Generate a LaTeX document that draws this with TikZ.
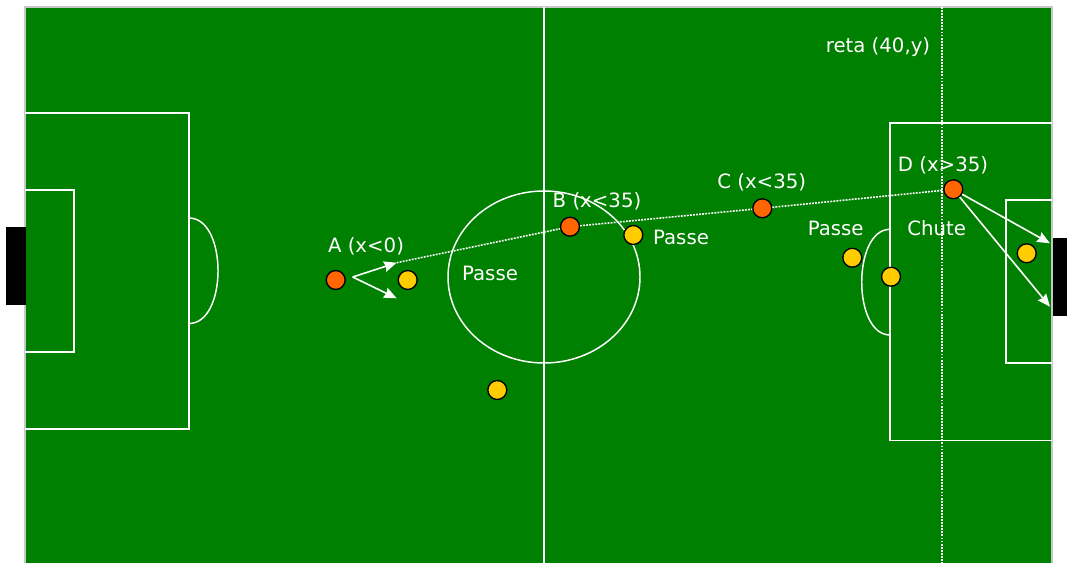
\documentclass[tikz,border=0pt]{standalone}
\usepackage{fontspec}
\setmainfont{DejaVu Sans}
\usetikzlibrary{arrows.meta}
\definecolor{pitch}{RGB}{0,128,0}
\definecolor{attackcol}{RGB}{255,102,0}
\definecolor{defendcol}{RGB}{255,204,0}
\definecolor{edgecol}{RGB}{200,200,200}
\begin{document}
\begin{tikzpicture}[x=0.75pt,y=-0.75pt,
  pline/.style={draw=white,line width=1.1pt},
  attacker/.style={circle,draw=black,line width=1pt,fill=attackcol,minimum size=14.2pt,inner sep=0pt},
  defender/.style={circle,draw=black,line width=1pt,fill=defendcol,minimum size=14.2pt,inner sep=0pt},
  lbl/.style={text=white,font=\fontsize{14.8}{17}\selectfont,inner sep=0pt},
  move/.style={draw=white,line width=1.2pt,-{Stealth[length=9.5pt,width=8pt,inset=1pt]}},
  traj/.style={draw=white,line width=1.2pt,dash pattern=on 1.4pt off 0.9pt}]
\useasboundingbox (0,0) rectangle (1067,563);
\fill[white] (0,0) rectangle (1067,563);
% pitch
\fill[pitch] (25,7) rectangle (1052,563);
\draw[edgecol,line width=0.8pt] (25,563) -- (25,7) -- (1052,7) -- (1052,563);
% goals
\fill[black] (6,227) rectangle (26,305);
\fill[black] (1053,238) rectangle (1067,316);
% left markings
\draw[pline] (25,113) -- (189,113) -- (189,429) -- (25,429);
\draw[pline] (25,190) -- (74,190) -- (74,352) -- (25,352);
\draw[pline] (189,218) .. controls (227.7,218) and (227.7,323.5) .. (189,323.5);
% centre
\draw[pline] (544,7) -- (544,563);
\draw[pline] (544,277) ellipse [x radius=96, y radius=86];
% right markings
\draw[pline] (1052,123) -- (890,123) -- (890,440.5) -- (1052,440.5);
\draw[pline] (1052,200) -- (1006,200) -- (1006,363) -- (1052,363);
\draw[pline] (890,229.3) .. controls (852.3,229.3) and (852.3,335) .. (890,335);
% line x = 40
\coordinate (rt) at (942,7);
\coordinate (rb) at (942,563);
\draw[traj] (rt) -- (rb);
% players
\node[attacker] (A) at (335.7,280) {};
\node[defender] (y1) at (407.7,280) {};
\node[defender] (y2) at (497.3,390) {};
\node[attacker] (B) at (570,226.7) {};
\node[defender] (y3) at (633.3,235) {};
\node[attacker] (C) at (762.3,208.3) {};
\node[defender] (y4) at (852.3,257.7) {};
\node[defender] (y5) at (891,276.7) {};
\node[attacker] (D) at (953.3,189.3) {};
\node[defender] (y6) at (1026.7,253.3) {};
% labels
\node[lbl] (lA) at (366,246.7) {A (x<0)};
\node[lbl] (lB) at (597,201) {B (x<35)};
\node[lbl] (lP1) at (490,273.3) {Passe};
\node[lbl] (lP2) at (681,237) {Passe};
\node[lbl] (lC) at (761.7,182.7) {C (x<35)};
\node[lbl] (lR) at (878,47) {reta (40,y)};
\node[lbl] (lD) at (943,165.7) {D (x>35)};
\node[lbl] (lP3) at (835.7,228) {Passe};
\node[lbl] (lS) at (936.7,228) {Chute};
% moves
\coordinate (a0) at (352.7,277);
\coordinate (a1) at (396.7,262.7);
\coordinate (a2) at (396.7,298.3);
\draw[move] (a0) -- (a1);
\draw[move] (a0) -- (a2);
\draw[traj] (a1) -- (B) -- (C) -- (D);
\coordinate (d1) at (1050,243.3);
\coordinate (d2) at (1050,306.7);
\draw[move] (D) -- (d1);
\draw[move] (D) -- (d2);
\end{tikzpicture}
\end{document}
